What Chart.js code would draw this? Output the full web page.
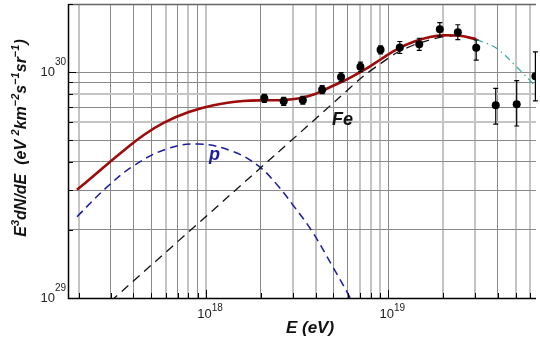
<!DOCTYPE html>
<html>
<head>
<meta charset="utf-8">
<script src="https://cdn.jsdelivr.net/npm/chart.js@4.4.0/dist/chart.umd.min.js"></script>
<style>
  html, body { margin: 0; padding: 0; background: #fff; }
  #wrap { width: 540px; height: 339px; position: relative; }
</style>
</head>
<body>
<div id="wrap"><canvas id="chart"></canvas></div>
<script>
// --- measured flux points (E in eV, E^3 dN/dE) ---
const dataE   = [2.09e18, 2.67e18, 3.40e18, 4.34e18, 5.51e18, 7.04e18, 9.08e18, 1.158e19, 1.48e19, 1.92e19, 2.41e19, 3.04e19, 3.89e19, 5.07e19, 6.42e19];
const dataY   = [7.65e29, 7.42e29, 7.50e29, 8.35e29, 9.50e29, 1.056e30, 1.254e30, 1.284e30, 1.327e30, 1.545e30, 1.50e30, 1.281e30, 7.12e29, 7.20e29, 9.57e29];
const errLow  = [7.34e29, 7.12e29, 7.20e29, 8.02e29, 9.07e29, 1.004e30, 1.204e30, 1.208e30, 1.248e30, 1.443e30, 1.39e30, 1.13e30, 5.88e29, 5.77e29, 7.45e29];
const errHigh = [7.97e29, 7.73e29, 7.81e29, 8.70e29, 9.95e29, 1.106e30, 1.306e30, 1.365e30, 1.411e30, 1.654e30, 1.619e30, 1.386e30, 8.47e29, 9.16e29, 1.228e30];

// --- model curves ---
const totalE = [1.96e17, 2.45e17, 2.95e17, 3.57e17, 4.58e17, 5.89e17, 8.05e17, 1.10e18, 1.60e18, 2.19e18, 2.65e18, 3.20e18, 3.94e18, 4.85e18, 5.98e18, 7.38e18, 9.08e18, 1.12e19, 1.38e19, 1.70e19, 2.01e19, 2.48e19, 3.05e19];
const totalY = [3.01e29, 3.50e29, 3.98e29, 4.52e29, 5.28e29, 5.97e29, 6.65e29, 7.13e29, 7.44e29, 7.50e29, 7.52e29, 7.63e29, 7.97e29, 8.61e29, 9.31e29, 1.021e30, 1.136e30, 1.264e30, 1.362e30, 1.428e30, 1.453e30, 1.447e30, 1.395e30];

const extraE = [3.05e19, 3.93e19, 5.05e19, 6.09e19, 6.6e19];
const extraY = [1.395e30, 1.273e30, 1.056e30, 9.06e29, 8.5e29];

const protonE = [1.96e17, 2.83e17, 3.96e17, 6.01e17, 9.01e17, 1.385e18, 1.94e18, 2.49e18, 3.00e18, 3.78e18, 4.96e18, 6.11e18, 6.5e18];
const protonY = [2.29e29, 3.07e29, 3.82e29, 4.55e29, 4.80e29, 4.47e29, 3.84e29, 3.13e29, 2.58e29, 2.00e29, 1.376e29, 1.02e29, 9.2e28];

const ironE = [2.6e17, 2.39e18, 5.28e18, 7.21e18, 9.08e18, 1.12e19, 1.38e19, 1.70e19, 2.01e19, 2.48e19, 3.05e19];
const ironY = [8.73e28, 4.29e29, 7.59e29, 9.50e29, 1.090e30, 1.220e30, 1.317e30, 1.388e30, 1.434e30, 1.447e30, 1.395e30];

// --- axes ---
const xGrid = [2e17, 3e17, 4e17, 5e17, 6e17, 7e17, 8e17, 9e17, 1e18, 2e18, 3e18, 4e18, 5e18, 6e18, 7e18, 8e18, 9e18, 1e19, 2e19, 3e19, 4e19, 5e19, 6e19];
const yGrid = [1e29, 2e29, 3e29, 4e29, 5e29, 6e29, 7e29, 8e29, 9e29, 1e30, 2e30];
const xLabels = [1e18, 1e19];
const yLabels = [1e29, 1e30];
const xLight = [2e17, 6e17, 8e17, 1e18, 3e18, 4e18, 7e18, 8e18, 9e18, 2e19, 3e19, 5e19, 6e19];
const yLight = [8e29, 6e29];

const pts = (xs, ys) => xs.map((v, i) => ({ x: v, y: ys[i] }));

function runsWidth(ctx, runs, base, sup) {
  let w = 0;
  runs.forEach(([t, s]) => { ctx.font = s ? sup : base; w += ctx.measureText(t).width; });
  return w;
}
function drawRuns(ctx, runs, x, y, base, sup, rise) {
  runs.forEach(([t, s]) => {
    ctx.font = s ? sup : base;
    ctx.fillText(t, x, s ? y - rise : y);
    x += ctx.measureText(t).width;
  });
}

const decor = {
  id: 'decor',
  afterDatasetsDraw(chart) {
    const { ctx, scales: { x, y } } = chart;
    ctx.save();
    ctx.strokeStyle = '#000';
    ctx.lineWidth = 1.2;
    dataE.forEach((e, i) => {
      const px = x.getPixelForValue(e);
      const lo = y.getPixelForValue(errLow[i]);
      const hi = y.getPixelForValue(errHigh[i]);
      ctx.beginPath();
      ctx.moveTo(px, lo); ctx.lineTo(px, hi);
      ctx.moveTo(px - 2.5, lo); ctx.lineTo(px + 2.5, lo);
      ctx.moveTo(px - 2.5, hi); ctx.lineTo(px + 2.5, hi);
      ctx.stroke();
    });

    // curve labels
    ctx.textAlign = 'center';
    ctx.textBaseline = 'alphabetic';
    ctx.font = 'italic bold 18px "Liberation Sans", Arial, sans-serif';
    ctx.fillStyle = '#111';
    ctx.fillText('Fe', x.getPixelForValue(5.62e18), y.getPixelForValue(5.83e29));
    ctx.fillStyle = '#1c1ca0';
    ctx.fillText('p', x.getPixelForValue(1.114e18), y.getPixelForValue(4.08e29));
    ctx.restore();
  },
  afterDraw(chart) {
    const { ctx, chartArea: a, scales: { x, y } } = chart;
    ctx.save();
    // frame
    ctx.strokeStyle = '#666';
    ctx.lineWidth = 1.5;
    ctx.beginPath();
    ctx.moveTo(a.left, a.top + 0.5); ctx.lineTo(a.right, a.top + 0.5);
    ctx.stroke();
    ctx.strokeStyle = '#000';
    ctx.lineWidth = 1.5;
    ctx.beginPath();
    ctx.moveTo(a.left + 0.5, a.top); ctx.lineTo(a.left + 0.5, a.bottom + 0.5);
    ctx.lineTo(a.right, a.bottom + 0.5);
    ctx.stroke();

    // inward tick marks
    ctx.lineWidth = 1;
    ctx.beginPath();
    xGrid.forEach(v => {
      const px = Math.round(x.getPixelForValue(v)) + 0.5;
      const len = xLabels.includes(v) ? 8 : 5;
      ctx.moveTo(px, a.bottom); ctx.lineTo(px, a.bottom - len);
    });
    yGrid.forEach(v => {
      const py = Math.round(y.getPixelForValue(v)) + 0.5;
      const len = yLabels.includes(v) ? 8 : 5;
      ctx.moveTo(a.left, py); ctx.lineTo(a.left + len, py);
    });
    ctx.stroke();

    // tick labels with superscript exponents
    const base = '13px "Liberation Sans", Arial, sans-serif';
    const sup = '10px "Liberation Sans", Arial, sans-serif';
    ctx.fillStyle = '#222';
    ctx.textAlign = 'left';
    ctx.textBaseline = 'alphabetic';
    xLabels.forEach(v => {
      const runs = [['10', false], [String(Math.round(Math.log10(v))), true]];
      const w = runsWidth(ctx, runs, base, sup);
      const px = x.getPixelForValue(v) + 4 - w / 2;
      drawRuns(ctx, runs, px, a.bottom + 20, base, sup, 7);
    });
    yLabels.forEach(v => {
      const runs = [['10', false], [String(Math.round(Math.log10(v))), true]];
      const w = runsWidth(ctx, runs, base, sup);
      drawRuns(ctx, runs, a.left - 2 - w, y.getPixelForValue(v) + 4, base, sup, 11);
    });

    // axis titles
    ctx.fillStyle = '#111';
    ctx.font = 'italic bold 17px "Liberation Sans", Arial, sans-serif';
    ctx.textAlign = 'center';
    ctx.fillText('E (eV)', 310, 333);

    const tBase = 'italic bold 16px "Liberation Sans", Arial, sans-serif';
    const tSup = 'italic bold 11px "Liberation Sans", Arial, sans-serif';
    const title = [['E', false], ['3', true], ['dN/dE  (eV ', false], ['2', true], ['km', false], ['\u22122', true],
                   ['s', false], ['\u22121', true], ['sr', false], ['\u22121', true], [')', false]];
    ctx.textAlign = 'left';
    const tw = runsWidth(ctx, title, tBase, tSup);
    ctx.translate(26, 138);
    ctx.rotate(-Math.PI / 2);
    drawRuns(ctx, title, -tw / 2, 0, tBase, tSup, 7);
    ctx.restore();
  }
};

const gridX = {
  color: c => xLight.includes(c.tick && c.tick.value) ? '#c4c4c4' : '#8a8a8a',
  lineWidth: c => xLight.includes(c.tick && c.tick.value) ? 2 : 1,
  drawTicks: false
};
const gridY = {
  color: c => yLight.includes(c.tick && c.tick.value) ? '#c4c4c4' : '#8a8a8a',
  lineWidth: c => yLight.includes(c.tick && c.tick.value) ? 2 : 1,
  drawTicks: false
};

new Chart(document.getElementById('chart'), {
  type: 'line',
  data: {
    datasets: [
      { data: pts(dataE, dataY), showLine: false, pointRadius: 4, pointBackgroundColor: '#000', pointBorderWidth: 0 },
      { data: pts(totalE, totalY), borderColor: '#9e0b0b', borderWidth: 2.6, pointRadius: 0, tension: 0.4 },
      { data: pts(ironE, ironY), borderColor: '#111', borderWidth: 1.3, borderDash: [9, 6], pointRadius: 0, tension: 0.3 },
      { data: pts(protonE, protonY), borderColor: '#1c1ca0', borderWidth: 1.5, borderDash: [8, 5], pointRadius: 0, tension: 0.4 },
      { data: pts(extraE, extraY), borderColor: '#38abab', borderWidth: 1.2, borderDash: [7, 4, 1.5, 4], pointRadius: 0, tension: 0.4 }
    ]
  },
  options: {
    responsive: true,
    maintainAspectRatio: false,
    animation: false,
    devicePixelRatio: 1,
    layout: { padding: { top: 4, right: 0, left: 0, bottom: 0 } },
    plugins: { legend: { display: false }, tooltip: { enabled: false } },
    scales: {
      x: {
        type: 'logarithmic', min: 1.75e17, max: 6.47e19,
        grid: gridX, border: { display: false },
        ticks: { display: false },
        afterBuildTicks: s => { s.ticks = xGrid.map(v => ({ value: v })); },
        afterFit: s => { s.height = 41; }
      },
      y: {
        type: 'logarithmic', min: 1e29, max: 2e30,
        grid: gridY, border: { display: false },
        ticks: { display: false },
        afterBuildTicks: s => { s.ticks = yGrid.map(v => ({ value: v })); },
        afterFit: s => { s.width = 68; }
      }
    }
  },
  plugins: [decor]
});
</script>
</body>
</html>
